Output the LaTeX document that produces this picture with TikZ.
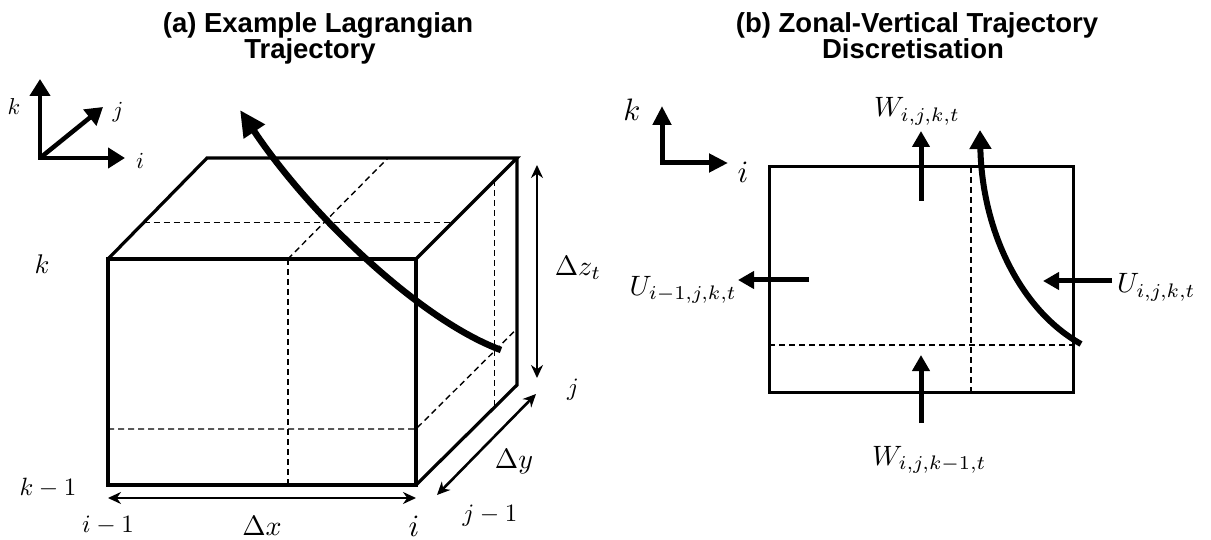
\documentclass[tikz,border=0pt]{standalone}
\usepackage{fontspec}
\usepackage{graphicx}
\setsansfont{Liberation Sans}
\usetikzlibrary{arrows.meta,calc}
\newcommand\ml[2]{\scalebox{#1}{$#2$}}
\begin{document}
\begin{tikzpicture}[x=1pt,y=-1pt,
  edge/.style={line width=3.2pt, line join=miter},
  hid/.style={line width=1.4pt, dash pattern=on 6pt off 4pt},
  traj/.style={line width=6.5pt, -{Triangle[length=26pt,width=24pt]}},
  trajb/.style={line width=6pt, -{Triangle[length=19pt,width=21pt]}},
  axis/.style={line width=4.5pt, line join=miter},
  dim/.style={line width=2.6pt, {Stealth[length=13pt,width=12pt]}-{Stealth[length=13pt,width=12pt]}},
  flux/.style={line width=5pt, -{Triangle[length=16pt,width=17pt]}},
  ttl/.style={font=\sffamily\bfseries\fontsize{27.5}{28}\selectfont, anchor=base, inner sep=0pt},
  lab/.style={font=\fontsize{10}{12}\selectfont, inner sep=0pt},
]
\useasboundingbox (0,0) rectangle (1211,540);

% titles
\node[ttl] (ta1) at (318,33) {(a) Example Lagrangian};
\node[ttl] (ta2) at (310,59) {Trajectory};
\node[ttl] (tb1) at (917,33) {(b) Zonal-Vertical Trajectory};
\node[ttl] (tb2) at (913,59) {Discretisation};

% ---------- panel (a) axes ----------
\coordinate (o1) at (40,158);
\coordinate (k1) at (40,79);
\coordinate (i1) at (125,158);
\coordinate (j1) at (103,107);
\draw[axis, {Triangle[length=17pt,width=20pt]}-{Triangle[length=17pt,width=20pt]}] (k1) -- (o1) -- (i1);
\draw[axis, -{Triangle[length=17pt,width=20pt]}] (o1) -- (j1);
\node[lab] (lk1) at (14,107) {\ml{2.3}{k}};
\node[lab] (lj1) at (118,112) {\ml{2.3}{j}};
\node[lab] (li1) at (140,161) {\ml{2.3}{i}};

% ---------- cube ----------
\coordinate (A) at (108,259);
\coordinate (B) at (416,259);
\coordinate (C) at (416,485);
\coordinate (D) at (108,485);
\coordinate (E) at (207,158);
\coordinate (F) at (517,158);
\coordinate (G) at (517,385);

% hidden / grid lines
\draw[hid] ($(A)!0.36!(E)$) -- ($(B)!0.36!(F)$);
\draw[hid] ($(A)!0.584!(B)$) -- ($(E)!0.584!(F)$);
\draw[hid] ($(A)!0.584!(B)$) -- ($(D)!0.584!(C)$);
\draw[hid] ($(A)!0.752!(D)$) -- ($(B)!0.752!(C)$) -- ($(F)!0.752!(G)$);
\draw[hid] ($(B)!0.78!(F)$) -- ($(C)!0.78!(G)$);

\draw[edge] (A) -- (B) -- (C) -- (D) -- cycle;
\draw[edge] (A) -- (E) -- (F) -- (B);
\draw[edge] (F) -- (G) -- (C);

% trajectory
\coordinate (tas) at (501,350);
\coordinate (tae) at (240,110);
\draw[traj] (tas) .. controls (420,320) and (310,215) .. (tae);

% dimensions
\coordinate (dx1) at (108,498);
\coordinate (dx2) at (416,498);
\draw[dim] (dx1) -- (dx2);
\coordinate (dz1) at (537,165);
\coordinate (dz2) at (537,378);
\draw[dim] (dz1) -- (dz2);
\coordinate (dy1) at (437,495);
\coordinate (dy2) at (536,394);
\draw[dim] (dy1) -- (dy2);

\node[lab, anchor=base] (ldx) at (262,535) {\ml{2.8}{\Delta x}};
\node[lab] (ldz) at (578,268) {\ml{2.8}{\Delta z_t}};
\node[lab] (ldy) at (514,462) {\ml{2.8}{\Delta y}};
\node[lab, anchor=base] (lim1) at (108,532) {\ml{2.5}{i-1}};
\node[lab, anchor=base] (li) at (414,536) {\ml{3.1}{i}};
\node[lab, anchor=base] (lkm1) at (48,495) {\ml{2.5}{k-1}};
\node[lab] (lk) at (42,264) {\ml{2.7}{k}};
\node[lab] (lj) at (573,390) {\ml{2.5}{j}};
\node[lab] (ljm1) at (490,516) {\ml{2.5}{j-1}};

% ---------- panel (b) ----------
\coordinate (o2) at (662,163);
\coordinate (k2) at (662,106);
\coordinate (i2) at (728,163);
\draw[axis, line width=5pt, {Triangle[length=19pt,width=18pt]}-{Triangle[length=19pt,width=18pt]}] (k2) -- (o2) -- (i2);
\node[lab] (lk2) at (632,110) {\ml{3.1}{k}};
\node[lab] (li2) at (743,172) {\ml{3.1}{i}};

\coordinate (R1) at (769,167);
\coordinate (R2) at (1073,392);
\draw[hid] (971,167) coordinate (v1) -- (971,392) coordinate (v2);
\draw[hid] (769,345) coordinate (h1) -- (1073,345) coordinate (h2);
\draw[line width=3pt] (R1) rectangle (R2);

\coordinate (wt1) at (921,201);
\coordinate (wt2) at (921,131);
\draw[flux] (wt1) -- (wt2);
\coordinate (wb1) at (921,423);
\coordinate (wb2) at (921,355);
\draw[flux] (wb1) -- (wb2);
\coordinate (ul1) at (809,280);
\coordinate (ul2) at (738,280);
\draw[flux] (ul1) -- (ul2);
\coordinate (ur1) at (1112,281);
\coordinate (ur2) at (1043,281);
\draw[flux] (ur1) -- (ur2);

\coordinate (tbs) at (1081,344);
\coordinate (tbe) at (980,130);
\draw[trajb] (tbs) .. controls (1020,310) and (982,230) .. (tbe);

\node[lab, anchor=base west] (lwt) at (874,117) {\ml{2.8}{W_{i,j,k,t}}};
\node[lab, anchor=base west] (lwb) at (872,465) {\ml{2.8}{W_{i,j,k-1,t}}};
\node[lab, anchor=base east] (lul) at (737,295) {\ml{2.8}{U_{i-1,j,k,t}}};
\node[lab, anchor=base west] (lur) at (1117,293) {\ml{2.8}{U_{i,j,k,t}}};
\end{tikzpicture}
\end{document}
